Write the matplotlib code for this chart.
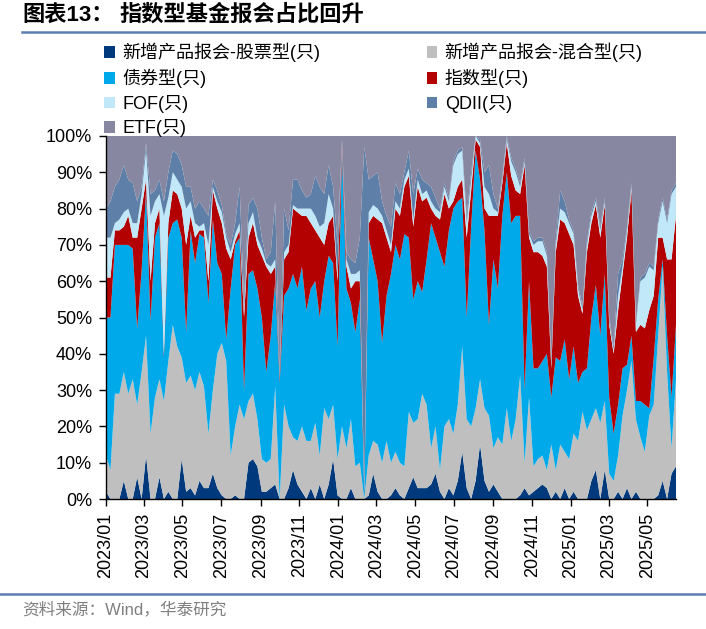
import numpy as np
import pandas as pd
import matplotlib
matplotlib.use("Agg")
import matplotlib.pyplot as plt
import matplotlib.dates as mdates
from matplotlib.patches import Patch
from matplotlib.lines import Line2D

plt.rcParams['font.family'] = ['Liberation Sans', 'Noto Sans CJK SC']

# weekly report dates, 2023/01 .. 2025/06
dates = pd.date_range("2023-01-01", periods=129, freq="7D")

# share of new fund filings per type (%)
stock = [2, 0, 0, 0, 5, 0, 0, 6, 0, 12, 0, 0, 6, 0, 2, 0, 0, 11, 2, 3,
         1, 5, 3, 3, 7, 3, 1, 0, 0, 1, 0, 0, 10, 11, 9, 2, 2, 3, 4, 0,
         0, 3, 8, 4, 2, 0, 3, 0, 4, 0, 4, 11, 1, 0, 0, 3, 0, 0, 0, 1,
         7, 2, 0, 0, 1, 3, 1, 0, 3, 6, 3, 3, 3, 4, 7, 2, 0, 3, 1, 5,
         13, 3, 0, 5, 15, 5, 2, 4, 2, 0, 0, 0, 0, 1, 3, 1, 2, 3, 4, 3,
         0, 2, 0, 3, 0, 2, 0, 0, 0, 5, 8, 0, 8, 0, 0, 2, 0, 3, 0, 2,
         0, 0, 0, 0, 1, 5, 0, 7, 9]
mixed = [10, 8, 29, 29, 30, 29, 33, 20, 35, 33, 18, 28, 27, 27, 36, 48, 42, 28, 30, 31,
         29, 30, 28, 15, 23, 37, 42, 38, 12, 19, 26, 22, 17, 18, 13, 9, 8, 8, 27, 0,
         26, 17, 9, 12, 18, 16, 13, 21, 8, 25, 18, 15, 10, 20, 14, 19, 9, 10, 0, 11,
         9, 13, 10, 16, 9, 10, 9, 9, 21, 15, 19, 26, 23, 10, 13, 6, 20, 19, 17, 21,
         29, 19, 20, 20, 18, 20, 21, 10, 15, 15, 25, 16, 22, 33, 7, 27, 7, 8, 8, 5,
         15, 6, 15, 10, 11, 16, 16, 24, 19, 17, 17, 21, 19, 7, 5, 10, 23, 27, 38, 20,
         17, 13, 23, 26, 44, 59, 35, 7, 24]
bond = [38, 42, 41, 41, 35, 41, 36, 21, 28, 40, 31, 44, 43, 12, 34, 28, 35, 33, 14, 40,
        35, 38, 41, 36, 47, 25, 19, 6, 46, 50, 46, 8, 35, 34, 36, 39, 25, 34, 29, 32,
        30, 38, 45, 42, 44, 36, 42, 39, 38, 35, 45, 39, 31, 76, 44, 32, 37, 45, 1, 60,
        50, 45, 33, 40, 52, 57, 56, 64, 48, 34, 38, 28, 40, 62, 52, 60, 44, 52, 62, 56,
        41, 28, 55, 71, 55, 49, 25, 52, 41, 63, 65, 60, 56, 44, 20, 32, 27, 25, 26, 32,
        13, 31, 23, 31, 22, 24, 16, 11, 17, 28, 34, 24, 35, 21, 13, 14, 13, 7, 7, 5,
        10, 13, 2, 13, 10, 2, 10, 14, 15]
index_f = [11, 11, 4, 4, 5, 8, 3, 25, 17, 3, 11, 4, 4, 1, 4, 9, 7, 8, 24, 4,
           7, 1, 2, 6, 8, 15, 14, 25, 8, 1, 2, 20, 10, 13, 12, 17, 29, 17, 4, 1,
           10, 10, 18, 21, 14, 26, 18, 14, 22, 10, 9, 13, 18, 2, 6, 4, 14, 5, 1, 4,
           12, 17, 33, 16, 6, 10, 12, 13, 17, 20, 26, 25, 17, 4, 6, 9, 20, 6, 2, 4,
           5, 22, 10, 3, 9, 6, 30, 12, 20, 9, 8, 13, 7, 6, 62, 12, 32, 32, 29, 24,
           8, 29, 39, 32, 40, 28, 24, 16, 32, 26, 22, 27, 19, 20, 22, 26, 26, 35, 40, 19,
           21, 21, 27, 17, 17, 6, 21, 38, 30]
fof = [11, 11, 2, 3, 4, 2, 4, 4, 4, 8, 18, 6, 4, 38, 7, 5, 4, 6, 10, 4,
       4, 1, 2, 10, 1, 2, 3, 3, 2, 2, 2, 2, 4, 3, 2, 2, 1, 2, 2, 0,
       2, 2, 1, 1, 2, 2, 4, 4, 3, 6, 8, 2, 2, 0, 2, 4, 2, 3, 1, 3,
       3, 3, 2, 2, 2, 2, 2, 2, 2, 2, 2, 2, 2, 2, 2, 2, 2, 2, 10, 9,
       8, 4, 3, 1, 1, 6, 6, 2, 1, 1, 1, 4, 5, 2, 1, 1, 2, 3, 4, 3,
       1, 2, 3, 3, 3, 3, 2, 1, 2, 2, 1, 2, 1, 1, 1, 4, 2, 2, 1, 2,
       12, 14, 12, 7, 4, 10, 10, 18, 8]
qdii = [8, 10, 10, 11, 13, 8, 11, 6, 2, 2, 6, 3, 4, 4, 7, 6, 7, 6, 6, 4,
        4, 7, 4, 8, 2, 3, 2, 1, 2, 3, 10, 3, 5, 4, 8, 3, 1, 4, 16, 1,
        12, 4, 7, 8, 5, 3, 4, 11, 11, 8, 8, 6, 8, 1, 2, 4, 3, 9, 94, 9,
        8, 10, 4, 4, 5, 5, 4, 2, 5, 7, 3, 4, 2, 4, 3, 1, 1, 1, 1, 1,
        1, 2, 2, 0, 1, 4, 8, 4, 1, 1, 1, 1, 1, 1, 1, 1, 1, 1, 1, 1,
        1, 1, 5, 3, 1, 1, 1, 1, 1, 1, 1, 1, 1, 1, 1, 6, 2, 1, 1, 1,
        1, 1, 1, 1, 1, 1, 1, 1, 1]
etf = [20, 18, 14, 12, 8, 12, 13, 18, 14, 2, 16, 15, 12, 18, 10, 4, 5, 8, 14, 14,
       20, 18, 20, 22, 12, 15, 19, 27, 30, 24, 14, 45, 19, 17, 20, 28, 34, 32, 18, 66,
       20, 26, 12, 12, 15, 17, 16, 11, 14, 16, 8, 14, 30, 1, 32, 34, 35, 28, 3, 12,
       11, 10, 18, 22, 25, 13, 16, 10, 4, 16, 9, 12, 13, 14, 17, 20, 13, 17, 7, 4,
       3, 22, 10, 0, 1, 10, 8, 16, 20, 11, 0, 6, 9, 13, 6, 26, 29, 28, 28, 32,
       62, 29, 15, 18, 23, 26, 41, 47, 29, 21, 17, 25, 17, 50, 58, 38, 34, 25, 13, 51,
       39, 38, 35, 36, 23, 17, 23, 15, 13]

labels = ["新增产品报会-股票型(只)", "新增产品报会-混合型(只)", "债券型(只)", "指数型(只)",
          "FOF(只)", "QDII(只)", "ETF(只)"]
colors = ["#003A7D", "#BFBFBF", "#00AAEA", "#B30000", "#C0E8F8", "#5E80A8", "#8787A1"]

series = np.array([stock, mixed, bond, index_f, fof, qdii, etf], dtype=float)
shares = series / series.sum(axis=0) * 100  # 100% stacked

fig = plt.figure(figsize=(7.06, 6.29), dpi=100)
ax = fig.add_axes([106 / 706, 1 - 499 / 629, 570 / 706, 363 / 629])

ax.stackplot(dates, shares, colors=colors, linewidth=0)
ax.set_xlim(dates[0], dates[-1])
ax.set_ylim(0, 100)

ax.set_yticks(np.arange(0, 101, 10))
ax.set_yticklabels([f"{v}%" for v in range(0, 101, 10)])
ax.xaxis.set_major_locator(mdates.MonthLocator(bymonth=[1, 3, 5, 7, 9, 11]))
ax.xaxis.set_major_formatter(mdates.DateFormatter("%Y/%m"))
ax.tick_params(axis="both", direction="out", length=5, width=1, labelsize=13, pad=5)
ax.tick_params(axis="x", rotation=90)

for s in ["top", "right"]:
    ax.spines[s].set_visible(False)
for s in ["left", "bottom"]:
    ax.spines[s].set_linewidth(1)

# legend: 2 columns, row-major order like the original
order = [0, 2, 4, 6, 1, 3, 5]
handles = [Patch(facecolor=colors[i], edgecolor="none", label=labels[i]) for i in order]
fig.legend(handles=handles, ncol=2, loc="upper left",
           bbox_to_anchor=(104 / 706, 1 - 43 / 629), frameon=False,
           fontsize=13, handlelength=0.6, handleheight=0.6, handletextpad=0.4,
           columnspacing=5.9, labelspacing=0.36, borderpad=0, borderaxespad=0)

# title and frame lines
fig.text(22 / 706, 1 - 15 / 629, "图表13：", fontsize=16, fontweight="bold", va="center")
fig.text(119 / 706, 1 - 15 / 629, "指数型基金报会占比回升", fontsize=16, fontweight="bold", va="center")
fig.add_artist(Line2D([22 / 706, 1], [1 - 32 / 629] * 2, color="#5B7DB1", lw=1.8))
fig.add_artist(Line2D([0, 1], [1 - 594 / 629] * 2, color="#5B7DB1", lw=1.8))
fig.text(22 / 706, 1 - 609 / 629, "资料来源：Wind，华泰研究", fontsize=12, color="#7F7F7F", va="center")

fig.savefig("out.png", dpi=100)
